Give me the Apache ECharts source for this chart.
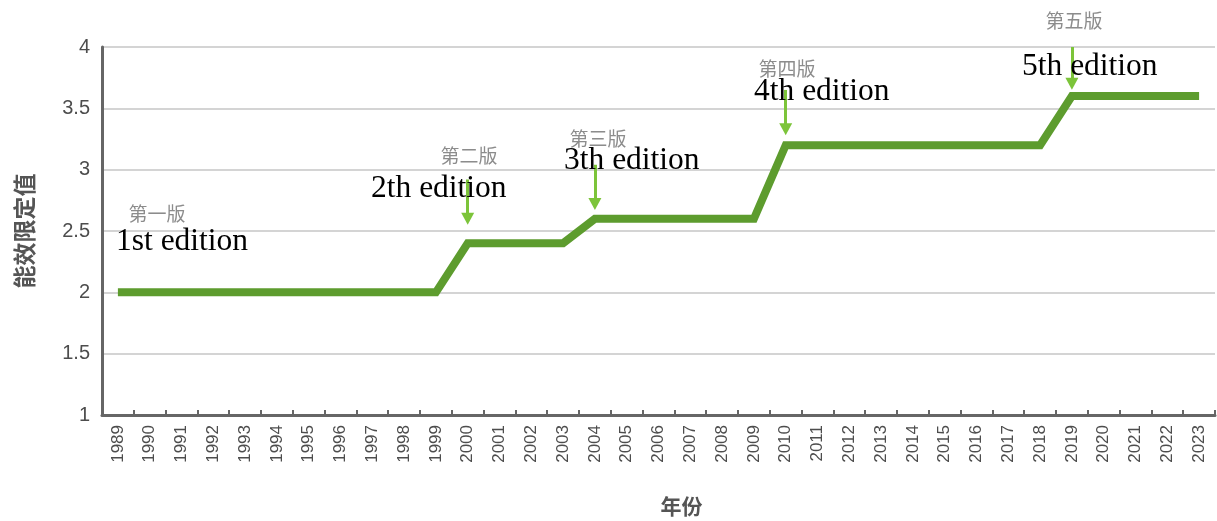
<!DOCTYPE html>
<html>
<head>
<meta charset="utf-8">
<script src="https://cdn.jsdelivr.net/npm/echarts@6/dist/echarts.min.js"></script>
<style>
  html, body { margin: 0; padding: 0; background: #fff; }
  #chart { width: 1217px; height: 521px; }
</style>
</head>
<body>
<div id="chart"></div>
<script>
// Years on the horizontal axis
const years = ['1989','1990','1991','1992','1993','1994','1995','1996','1997','1998',
  '1999','2000','2001','2002','2003','2004','2005','2006','2007','2008','2009','2010',
  '2011','2012','2013','2014','2015','2016','2017','2018','2019','2020','2021','2022','2023'];

// Minimum energy-efficiency value in force each year
const limitValues = [2, 2, 2, 2, 2, 2, 2, 2, 2, 2,
  2, 2.4, 2.4, 2.4, 2.4, 2.6, 2.6, 2.6, 2.6, 2.6, 2.6, 3.2,
  3.2, 3.2, 3.2, 3.2, 3.2, 3.2, 3.2, 3.2, 3.6, 3.6, 3.6, 3.6, 3.6];

// Edition arrows: year, value at the tail, value at the head
const arrowYears = ['2000', '2004', '2010', '2019'];
const arrowFrom = [2.92, 3.04, 3.65, 4.0];
const arrowTo = [2.6, 2.72, 3.33, 3.7];

// Edition names
const editionsZh = ['第一版', '第二版', '第三版', '第四版', '第五版'];
const editionsEn = ['1st edition', '2th edition', '3th edition', '4th edition', '5th edition'];

// Value axis ticks
const yMin = 1, yMax = 4, yStep = 0.5;

const chart = echarts.init(document.getElementById('chart'));

// Text anchors for the edition captions (pixels)
const zhPos = [[157, 214], [469, 156], [598, 139], [787, 69], [1074, 21]];
const enPos = [[116, 242], [371, 189], [564, 161], [754, 92], [1022, 67]];

const graphics = [];
editionsZh.forEach((t, i) => {
  graphics.push({
    type: 'text',
    x: zhPos[i][0], y: zhPos[i][1],
    style: {
      text: t, align: 'center', verticalAlign: 'middle',
      fill: '#8c8c8c', font: '19px "Noto Sans CJK SC"'
    }
  });
});
editionsEn.forEach((t, i) => {
  graphics.push({
    type: 'text',
    x: enPos[i][0], y: enPos[i][1],
    style: {
      text: t, align: 'left', verticalAlign: 'middle',
      fill: '#000', font: '31.5px "Liberation Serif"'
    },
    z: 100
  });
});

chart.setOption({
  animation: false,
  backgroundColor: '#fff',
  grid: { left: 102, right: 2, top: 47, bottom: 106, containLabel: false, outerBoundsMode: 'none' },
  xAxis: {
    type: 'category',
    data: years,
    boundaryGap: true,
    name: '年份',
    nameLocation: 'middle',
    nameGap: 81,
    nameTextStyle: {
      fontFamily: 'Noto Sans CJK SC', fontSize: 21, fontWeight: 'bold',
      color: '#555', padding: [0, 0, 0, 46]
    },
    axisLine: { lineStyle: { color: '#666', width: 3 } },
    axisTick: { show: true, inside: true, length: 5, lineStyle: { color: '#666', width: 2 } },
    axisLabel: {
      rotate: 90, interval: 0, margin: 10,
      fontFamily: 'Liberation Sans', fontSize: 17, color: '#4d4d4d'
    },
    splitLine: { show: false }
  },
  yAxis: {
    type: 'value',
    min: yMin, max: yMax, interval: yStep,
    name: '能效限定值',
    nameLocation: 'middle',
    nameGap: 66,
    nameRotate: 90,
    nameTextStyle: {
      fontFamily: 'Noto Sans CJK SC', fontSize: 23, fontWeight: 'bold', color: '#555'
    },
    axisLine: { show: true, lineStyle: { color: '#666', width: 3 } },
    axisTick: { show: false },
    axisLabel: { margin: 12, fontFamily: 'Liberation Sans', fontSize: 20, color: '#4d4d4d' },
    splitLine: { lineStyle: { color: '#d4d4d4', width: 2 } }
  },
  series: [{
    type: 'line',
    data: limitValues,
    showSymbol: false,
    symbol: 'none',
    lineStyle: { color: '#5d9c2e', width: 8, cap: 'butt', join: 'miter' },
    clip: false,
    markLine: {
      silent: true,
      symbol: ['none', 'triangle'],
      symbolSize: [13, 12],
      label: { show: false },
      lineStyle: { color: '#7cc43a', width: 3, type: 'solid' },
      data: arrowYears.map((y, i) => [
        { coord: [y, arrowFrom[i]] },
        { coord: [y, arrowTo[i]] }
      ])
    }
  }],
  graphic: graphics
});
</script>
</body>
</html>
